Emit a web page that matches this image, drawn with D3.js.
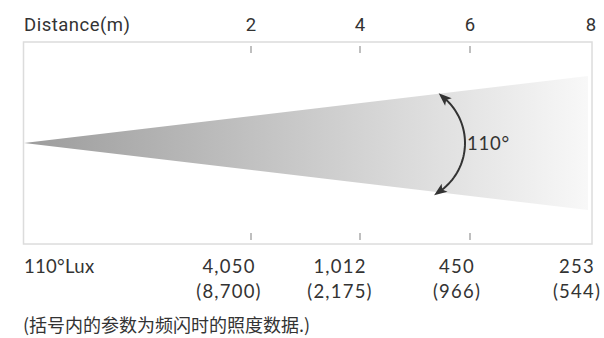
<!DOCTYPE html>
<html><head><meta charset="utf-8">
<script src="https://cdn.jsdelivr.net/npm/d3@7"></script>
<style>html,body{margin:0;padding:0;background:#fff;}</style>
</head><body>
<svg id="c" width="604" height="338"></svg>
<script>
const distances = [2, 4, 6, 8];
const luxValues = [4050, 1012, 450, 253];
const flashLux = [8700, 2175, 966, 544];
const beamAngle = 110;
const axisTitle = "Distance(m)";
const luxTitle = "110°Lux";
const footnote = "(括号内的参数为频闪时的照度数据.)";

const svg = d3.select("#c");
const frame = {x0: 23.5, x1: 592, y0: 42, y1: 244};
const x = d3.scaleLinear().domain(distances).range([251, 360, 470, 592]);
const xl = d3.scaleLinear().domain(distances).range([229, 340, 457, 577]);
const fmt = d3.format(",");
const txt = "#333";

// gradient
const defs = svg.append("defs");
const g = defs.append("linearGradient").attr("id","fan").attr("x1","0").attr("x2","1").attr("y1","0").attr("y2","0");
g.append("stop").attr("offset","0").attr("stop-color","#9c9c9c");
g.append("stop").attr("offset","1").attr("stop-color","#f8f8f8");

// frame
svg.append("rect").attr("x",frame.x0).attr("y",frame.y0)
  .attr("width",frame.x1-frame.x0).attr("height",frame.y1-frame.y0)
  .attr("fill","none").attr("stroke","#dcdcdc").attr("stroke-width",1.5);

// fan
const apex = [24, 143], farX = 588, half = 67;
svg.append("path")
  .attr("d", d3.line()([apex, [farX, apex[1]-half], [farX, apex[1]+half]]) + "Z")
  .attr("fill","url(#fan)");

// axis ticks (top & bottom)
const tickD = distances.slice(0, 3);
svg.selectAll(".tt").data(tickD).join("line")
  .attr("x1",d=>x(d)).attr("x2",d=>x(d)).attr("y1",46).attr("y2",53)
  .attr("stroke","#aaa").attr("stroke-width",1.5);
svg.selectAll(".tb").data(tickD).join("line")
  .attr("x1",d=>x(d)).attr("x2",d=>x(d)).attr("y1",233).attr("y2",240)
  .attr("stroke","#aaa").attr("stroke-width",1.5);

// top labels
svg.append("text").attr("x",24).attr("y",31).text(axisTitle)
  .attr("font-family","Roboto, Arial, sans-serif").attr("font-size",18.5)
  .attr("letter-spacing",0.5).attr("fill",txt);
svg.selectAll(".tl").data(distances).join("text")
  .attr("x",d=>d===8?591:x(d)).attr("y",31).attr("text-anchor","middle")
  .attr("font-family","Roboto, Arial, sans-serif").attr("font-size",18.5).attr("fill",txt)
  .text(d=>d);

// arc with arrows
const cx = 406, cy = 143, r = 59;
const a0 = Math.asin(-47/ r), a1 = Math.asin(50 / r);
const arcPts = d3.range(0, 41).map(i => {
  const a = a0 + (a1 - a0) * i / 40;
  return [cx + r*Math.cos(a), cy + r*Math.sin(a)];
});
svg.append("path").attr("d", d3.line()(arcPts)).attr("fill","none")
  .attr("stroke","#333").attr("stroke-width",2);
function arrowHead(p, q){
  const ang = Math.atan2(p[1]-q[1], p[0]-q[0]);
  const L = 13, W = 5;
  const tip = [p[0] + Math.cos(ang)*4, p[1] + Math.sin(ang)*4];
  const b = [tip[0]-Math.cos(ang)*L, tip[1]-Math.sin(ang)*L];
  const n = [-Math.sin(ang), Math.cos(ang)];
  return d3.line()([tip, [b[0]+n[0]*W, b[1]+n[1]*W], [b[0]+Math.cos(ang)*3, b[1]+Math.sin(ang)*3], [b[0]-n[0]*W, b[1]-n[1]*W]])+"Z";
}
svg.append("path").attr("d", arrowHead(arcPts[0], arcPts[3])).attr("fill","#333");
svg.append("path").attr("d", arrowHead(arcPts[40], arcPts[37])).attr("fill","#333");
svg.append("text").attr("x",467).attr("y",150).text(beamAngle + "°")
  .attr("font-family","Lato, sans-serif").attr("font-size",18.5)
  .attr("letter-spacing",0.8).attr("fill",txt);

// lux labels
svg.append("text").attr("x",24).attr("y",273).text(luxTitle)
  .attr("font-family","Lato, sans-serif").attr("font-size",18.5)
  .attr("letter-spacing",0.3).attr("fill",txt);
svg.selectAll(".lv").data(distances).join("text")
  .attr("x",d=>xl(d)).attr("y",273).attr("text-anchor","middle")
  .attr("font-family","Lato, sans-serif").attr("font-size",18.5)
  .attr("letter-spacing",1.2).attr("fill",txt)
  .text((d,i)=>fmt(luxValues[i]));
svg.selectAll(".fv").data(distances).join("text")
  .attr("x",d=>xl(d)).attr("y",298).attr("text-anchor","middle")
  .attr("font-family","Lato, sans-serif").attr("font-size",18.5)
  .attr("letter-spacing",1.2).attr("fill",txt)
  .text((d,i)=>"(" + fmt(flashLux[i]) + ")");

svg.append("text").attr("x",23).attr("y",332).text(footnote)
  .attr("font-family","'Noto Sans CJK SC', sans-serif").attr("font-size",18).attr("fill",txt);
</script>
</body></html>
